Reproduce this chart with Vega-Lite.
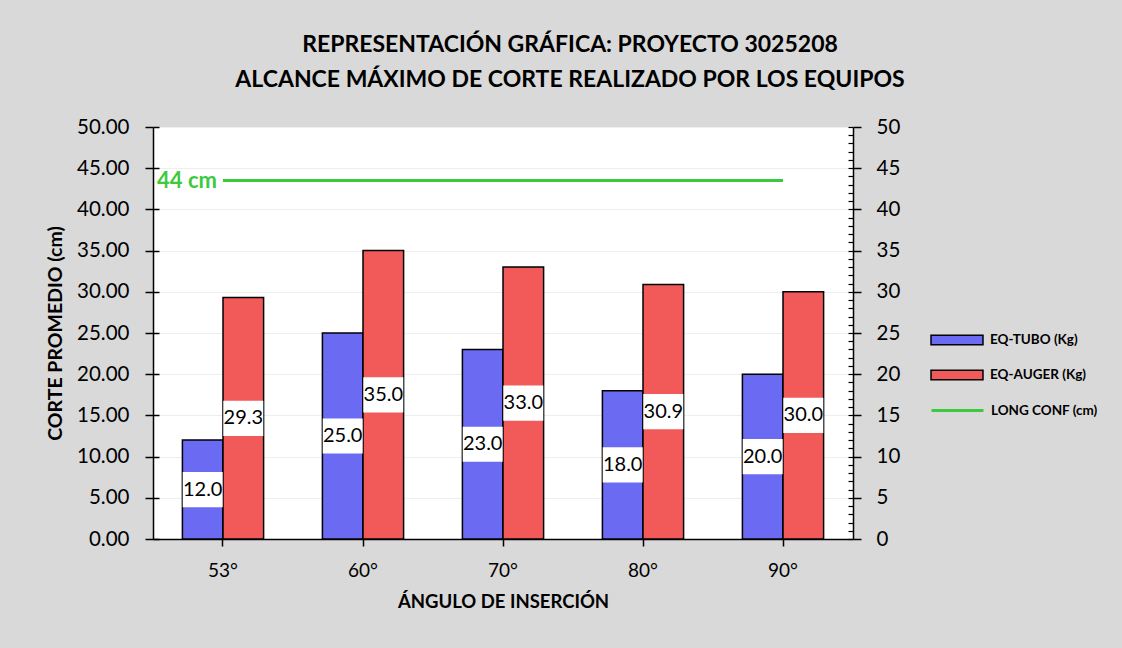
{
  "$schema": "https://vega.github.io/schema/vega-lite/v6.json",
  "width": 700,
  "height": 412,
  "autosize": {"type": "none"},
  "padding": {"left": 153, "top": 127, "right": 269, "bottom": 109},
  "background": "#d9d9d9",
  "config": {
    "font": "Lato",
    "view": {"fill": "white", "stroke": null},
    "axis": {"labelFont": "Lato", "titleFont": "Lato", "labelColor": "black", "titleColor": "black", "domainColor": "black", "tickColor": "black"}
  },
  "title": {
    "text": ["REPRESENTACIÓN GRÁFICA: PROYECTO 3025208", "ALCANCE MÁXIMO DE CORTE REALIZADO POR LOS EQUIPOS"],
    "font": "Lato",
    "fontSize": 23,
    "fontWeight": "bold",
    "lineHeight": 35,
    "anchor": "middle",
    "frame": "group",
    "dx": 67,
    "offset": 25,
    "color": "black"
  },
  "datasets": {
    "bars": [
      {"ang": "53°", "serie": "EQ-TUBO (Kg)", "valor": 12.0},
      {"ang": "53°", "serie": "EQ-AUGER (Kg)", "valor": 29.3},
      {"ang": "60°", "serie": "EQ-TUBO (Kg)", "valor": 25.0},
      {"ang": "60°", "serie": "EQ-AUGER (Kg)", "valor": 35.0},
      {"ang": "70°", "serie": "EQ-TUBO (Kg)", "valor": 23.0},
      {"ang": "70°", "serie": "EQ-AUGER (Kg)", "valor": 33.0},
      {"ang": "80°", "serie": "EQ-TUBO (Kg)", "valor": 18.0},
      {"ang": "80°", "serie": "EQ-AUGER (Kg)", "valor": 30.9},
      {"ang": "90°", "serie": "EQ-TUBO (Kg)", "valor": 20.0},
      {"ang": "90°", "serie": "EQ-AUGER (Kg)", "valor": 30.0}
    ],
    "linea": [
      {"ang": "53°", "serie": "LONG CONF (cm)", "valor": 43.5},
      {"ang": "60°", "serie": "LONG CONF (cm)", "valor": 43.5},
      {"ang": "70°", "serie": "LONG CONF (cm)", "valor": 43.5},
      {"ang": "80°", "serie": "LONG CONF (cm)", "valor": 43.5},
      {"ang": "90°", "serie": "LONG CONF (cm)", "valor": 43.5}
    ],
    "etiqueta": [
      {"ang": "53°", "valor": 43.5, "texto": "44 cm"}
    ]
  },
  "layer": [
    {
      "data": {"name": "bars"},
      "mark": {"type": "bar", "stroke": "black", "strokeWidth": 1.5},
      "encoding": {
        "x": {
          "field": "ang", "type": "nominal",
          "sort": ["53°", "60°", "70°", "80°", "90°"],
          "scale": {"paddingInner": 0.42, "paddingOuter": 0.21},
          "axis": {"title": "ÁNGULO DE INSERCIÓN", "titleFontSize": 18.5, "titleFontWeight": "bold", "labelFontSize": 19, "labelAngle": 0, "tickSize": 7, "labelPadding": 15, "titlePadding": 12, "domainWidth": 1.5, "tickWidth": 1.5}
        },
        "xOffset": {"field": "serie", "type": "nominal", "sort": ["EQ-TUBO (Kg)", "EQ-AUGER (Kg)"], "scale": {"paddingInner": 0, "paddingOuter": 0}},
        "y": {
          "field": "valor", "type": "quantitative",
          "scale": {"domain": [0, 50], "nice": false},
          "axis": {"title": "CORTE PROMEDIO (cm)", "titleFontSize": 19.5, "titleFontWeight": "bold", "titlePadding": 11, "labelFontSize": 20.5, "format": ".2f", "values": [0, 5, 10, 15, 20, 25, 30, 35, 40, 45, 50], "tickSize": 8, "labelPadding": 16, "grid": true, "gridColor": "#eeeeee", "domainWidth": 1.5, "tickWidth": 1.5}
        },
        "fill": {
          "field": "serie", "type": "nominal",
          "scale": {"domain": ["EQ-TUBO (Kg)", "EQ-AUGER (Kg)"], "range": ["#6a6af2", "#f25a5a"]},
          "legend": {
            "title": null,
            "orient": "none",
            "legendX": 777,
            "legendY": 186,
            "labelFont": "Lato",
            "labelFontSize": 13.5,
            "labelFontWeight": "bold",
            "labelColor": "black",
            "symbolSize": 2700,
            "rowPadding": -17,
            "labelOffset": 6,
            "symbolType": "M-1,-0.18L1,-0.18L1,0.18L-1,0.18Z",
            "symbolStrokeColor": "black",
            "symbolStrokeWidth": 1.5,
            "symbolOpacity": 1
          }
        }
      }
    },
    {
      "data": {"name": "bars"},
      "mark": {"type": "point", "shape": "M-1,-0.88L1,-0.88L1,0.88L-1,0.88Z", "size": 1600, "filled": true, "fill": "white", "opacity": 1, "strokeWidth": 0},
      "encoding": {
        "x": {"field": "ang", "type": "nominal", "sort": ["53°", "60°", "70°", "80°", "90°"]},
        "xOffset": {"field": "serie", "type": "nominal", "sort": ["EQ-TUBO (Kg)", "EQ-AUGER (Kg)"]},
        "y": {
          "field": "valor", "type": "quantitative",
          "scale": {"domain": [0, 100], "nice": false},
          "axis": {"orient": "left", "title": null, "labels": false, "domain": false, "grid": false, "values": [0, 10, 20, 30, 40, 50, 60, 70, 80, 90, 100], "tickSize": -6, "tickWidth": 1.5}
        }
      }
    },
    {
      "data": {"name": "bars"},
      "mark": {"type": "text", "font": "Lato", "fontSize": 20, "baseline": "middle", "align": "center", "color": "black"},
      "encoding": {
        "x": {"field": "ang", "type": "nominal", "sort": ["53°", "60°", "70°", "80°", "90°"]},
        "xOffset": {"field": "serie", "type": "nominal", "sort": ["EQ-TUBO (Kg)", "EQ-AUGER (Kg)"]},
        "y": {"field": "valor", "type": "quantitative", "scale": {"domain": [0, 100], "nice": false}, "axis": null},
        "text": {"field": "valor", "type": "quantitative", "format": ".1f"}
      }
    },
    {
      "data": {"name": "linea"},
      "mark": {"type": "line", "strokeWidth": 3},
      "encoding": {
        "x": {"field": "ang", "type": "nominal", "sort": ["53°", "60°", "70°", "80°", "90°"]},
        "y": {
          "field": "valor", "type": "quantitative",
          "scale": {"domain": [0, 50], "nice": false},
          "axis": {"orient": "right", "title": null, "labelFontSize": 20.5, "format": "d", "values": [0, 5, 10, 15, 20, 25, 30, 35, 40, 45, 50], "tickSize": 8, "labelPadding": 15, "grid": false, "domainWidth": 1.5, "tickWidth": 1.5}
        },
        "stroke": {
          "field": "serie", "type": "nominal",
          "scale": {"domain": ["LONG CONF (cm)"], "range": ["#3dc93d"]},
          "legend": {
            "title": null,
            "orient": "none",
            "legendX": 777,
            "legendY": 256,
            "labelFont": "Lato",
            "labelFontSize": 13.5,
            "labelFontWeight": "bold",
            "labelColor": "black",
            "symbolSize": 2700,
            "labelOffset": 6,
            "symbolType": "stroke",
            "symbolStrokeWidth": 3
          }
        }
      }
    },
    {
      "data": {"name": "etiqueta"},
      "mark": {"type": "text", "font": "Lato", "fontSize": 22, "fontWeight": "bold", "align": "right", "baseline": "middle", "dx": -6, "color": "#3dc93d"},
      "encoding": {
        "x": {"field": "ang", "type": "nominal", "sort": ["53°", "60°", "70°", "80°", "90°"]},
        "y": {
          "field": "valor", "type": "quantitative",
          "scale": {"domain": [0, 50], "nice": false},
          "axis": {"orient": "right", "title": null, "labels": false, "domain": false, "grid": false, "values": [0,1,2,3,4,5,6,7,8,9,10,11,12,13,14,15,16,17,18,19,20,21,22,23,24,25,26,27,28,29,30,31,32,33,34,35,36,37,38,39,40,41,42,43,44,45,46,47,48,49,50], "tickSize": -5, "tickWidth": 1.2}
        },
        "text": {"field": "texto", "type": "nominal"}
      }
    }
  ],
  "resolve": {"scale": {"y": "independent"}}
}
